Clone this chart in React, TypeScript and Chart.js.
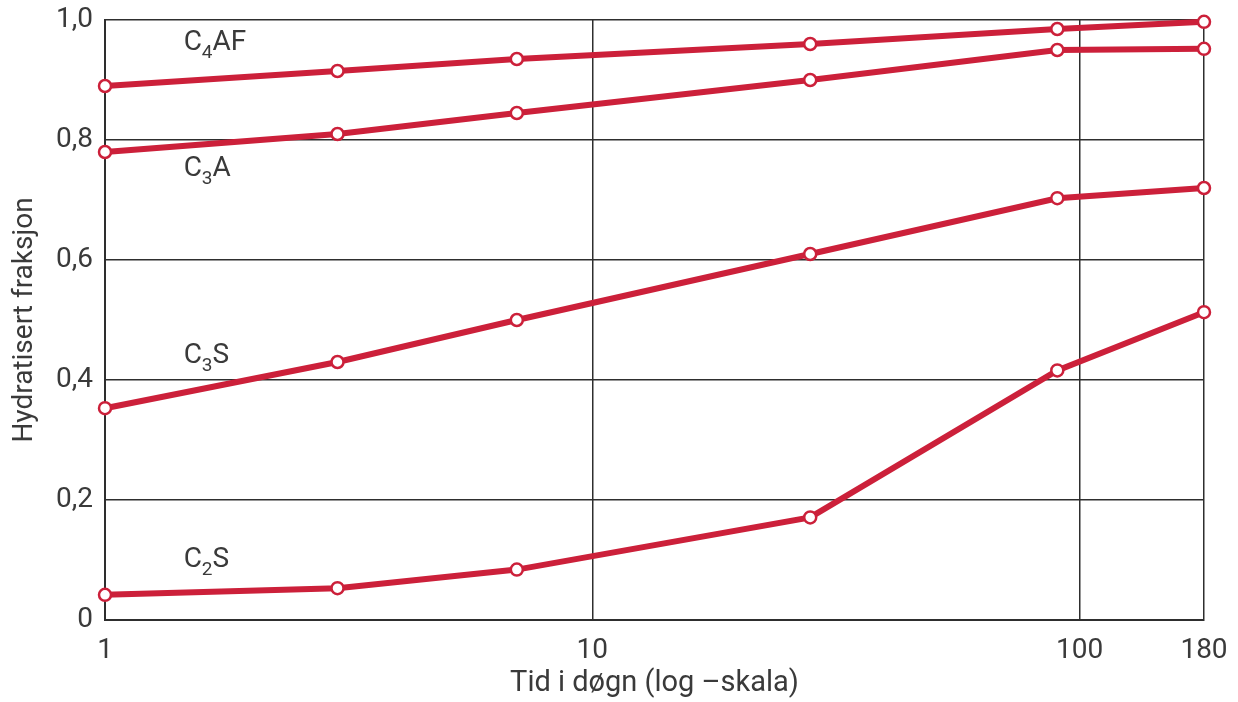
import React, { useEffect, useRef } from 'react';
import { Chart, registerables } from 'chart.js';

Chart.register(...registerables);

// ---- data ----
const days = [1, 3, 7, 28, 90, 180];
const c4af = [0.89, 0.915, 0.935, 0.96, 0.985, 0.997];
const c3a = [0.78, 0.81, 0.845, 0.9, 0.95, 0.952];
const c3s = [0.353, 0.43, 0.5, 0.61, 0.703, 0.72];
const c2s = [0.042, 0.053, 0.084, 0.171, 0.416, 0.513];

const seriesNames = ['C₄AF', 'C₃A', 'C₃S', 'C₂S'];
const seriesValues = [c4af, c3a, c3s, c2s];

const xTickValues = [1, 10, 100, 180];
const xTitle = 'Tid i døgn (log –skala)';
const yTitle = 'Hydratisert fraksjon';

// in-chart series labels: main letter, subscript, rest; anchored in data units
const labelHead = ['C', 'C', 'C', 'C'];
const labelSub = ['4', '3', '3', '2'];
const labelTail = ['AF', 'A', 'S', 'S'];
const labelAtX = [1.45, 1.45, 1.45, 1.45];
const labelAtY = [0.962, 0.752, 0.44, 0.1];

// ---- style ----
const FONT = 'Roboto, "DejaVu Sans", sans-serif';
const TEXT = '#3a3a3a';
const GRID = '#2e2e2e';
const RED = 'rgb(204, 32, 58)';

const labelPlugin = {
  id: 'seriesLabels',
  afterDatasetsDraw(chart: any) {
    const { ctx, scales } = chart;
    const x = scales.x;
    const y = scales.y;
    ctx.save();
    ctx.fillStyle = TEXT;
    ctx.textAlign = 'left';
    ctx.textBaseline = 'middle';
    for (let i = 0; i < labelHead.length; i++) {
      let px = x.getPixelForValue(labelAtX[i]);
      const py = y.getPixelForValue(labelAtY[i]);
      ctx.font = `28px ${FONT}`;
      ctx.fillText(labelHead[i], px, py);
      px += ctx.measureText(labelHead[i]).width;
      ctx.font = `19px ${FONT}`;
      ctx.fillText(labelSub[i], px, py + 10);
      px += ctx.measureText(labelSub[i]).width;
      ctx.font = `28px ${FONT}`;
      ctx.fillText(labelTail[i], px, py);
    }
    ctx.restore();
  },
};

export default function App() {
  const ref = useRef<HTMLCanvasElement | null>(null);

  useEffect(() => {
    if (!ref.current) return;
    const chart = new Chart(ref.current, {
      type: 'line',
      data: {
        datasets: seriesNames.map((name, i) => ({
          label: name,
          data: days.map((d, j) => ({ x: d, y: seriesValues[i][j] })),
          borderColor: RED,
          borderWidth: 6,
          pointRadius: 6,
          pointHoverRadius: 6,
          pointBorderWidth: 2.5,
          pointBackgroundColor: '#ffffff',
          pointBorderColor: RED,
          tension: 0,
          fill: false,
          clip: false,
        })),
      },
      options: {
        responsive: false,
        animation: false,
        devicePixelRatio: 1,
        layout: { autoPadding: false, padding: { top: 20, right: 34, bottom: 0, left: 0 } },
        plugins: {
          legend: { display: false },
          tooltip: { enabled: false },
        },
        scales: {
          x: {
            type: 'logarithmic',
            min: 1,
            max: 180,
            afterBuildTicks: (s: any) => {
              s.ticks = xTickValues.map((v) => ({ value: v }));
            },
            afterFit: (s: any) => {
              s.height = 82;
              s.paddingLeft = 0;
              s.paddingRight = 0;
            },
            ticks: {
              autoSkip: false,
              maxRotation: 0,
              padding: 14,
              color: TEXT,
              font: { family: FONT, size: 28 },
              callback: (v: any) => String(v),
            },
            grid: { color: GRID, lineWidth: 1.5, drawTicks: false },
            border: { color: GRID, width: 2 },
            title: {
              display: true,
              text: xTitle,
              color: TEXT,
              font: { family: FONT, size: 29 },
              padding: { top: 0, bottom: 1 },
            },
          },
          y: {
            type: 'linear',
            min: 0,
            max: 1,
            afterFit: (s: any) => {
              s.width = 105;
              s.paddingTop = 0;
              s.paddingBottom = 0;
            },
            ticks: {
              stepSize: 0.2,
              padding: 12,
              color: TEXT,
              font: { family: FONT, size: 28 },
              callback: (v: any) =>
                Number(v) === 0 ? '0' : Number(v).toFixed(1).replace('.', ','),
            },
            grid: { color: GRID, lineWidth: 1.5, drawTicks: false },
            border: { color: GRID, width: 2 },
            title: {
              display: true,
              text: yTitle,
              color: TEXT,
              font: { family: FONT, size: 28 },
              padding: { top: 8, bottom: 0 },
            },
          },
        },
      },
      plugins: [labelPlugin],
    });
    return () => chart.destroy();
  }, []);

  return (
    <canvas
      ref={ref}
      width={1238}
      height={702}
      style={{ position: 'fixed', left: 0, top: 0, background: '#ffffff' }}
    />
  );
}
